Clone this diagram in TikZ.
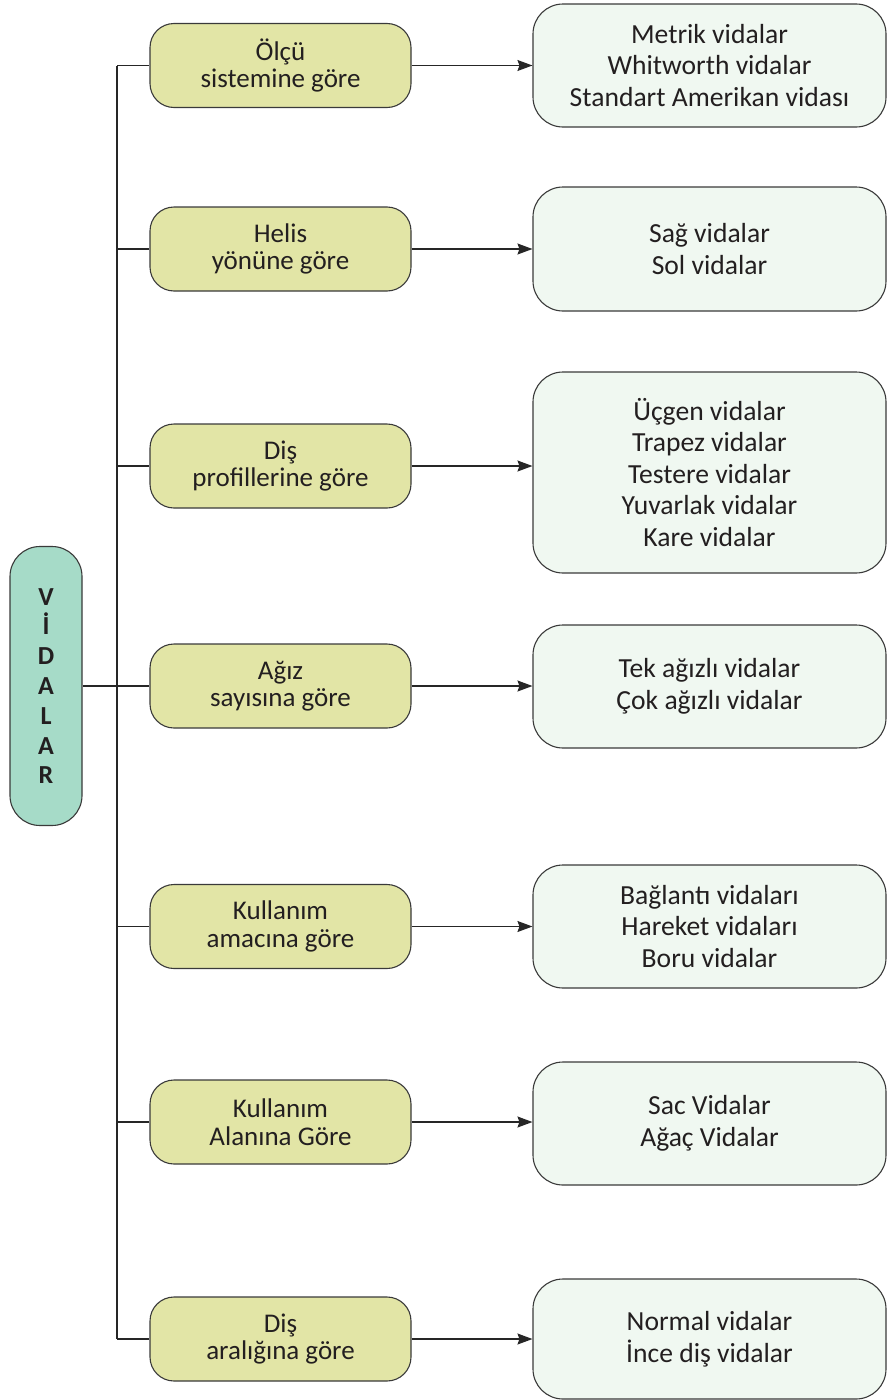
\documentclass[tikz,border=0pt]{standalone}
\usepackage{fontspec}
\setmainfont{Carlito}
\usetikzlibrary{arrows.meta}
\definecolor{midfill}{HTML}{E2E5A6}
\definecolor{rightfill}{HTML}{F0F8F1}
\definecolor{rootfill}{HTML}{A6DBC8}
\definecolor{edgec}{HTML}{3A3A3A}
\definecolor{textc}{HTML}{231F20}
\begin{document}
\begin{tikzpicture}[x=1pt,y=-1pt,
  midbox/.style={draw=edgec, line width=1.1pt, fill=midfill, rounded corners=24pt,
    minimum width=261pt, minimum height=84pt, inner sep=0pt, align=center,
    text=textc, font=\fontsize{27}{27.5}\selectfont},
  rightbox/.style={draw=edgec, line width=1.1pt, fill=rightfill, rounded corners=30pt,
    minimum width=353pt, inner sep=0pt, align=center,
    text=textc, font=\fontsize{27.6}{31.5}\selectfont},
  rootbox/.style={draw=edgec, line width=1.1pt, fill=rootfill, rounded corners=30pt,
    minimum width=72pt, minimum height=279pt, inner sep=0pt, align=center,
    text=textc, font=\fontsize{26}{29.8}\selectfont\bfseries},
  conn/.style={draw=black!85, line width=1.2pt},
  arr/.style={conn, -{Stealth[length=15pt,width=11pt,inset=2pt]}}
]
\useasboundingbox (0,0) rectangle (887,1400);

% root
\node[rootbox] (root) at (46,686) {V\\İ\\D\\A\\L\\A\\R};

% middle boxes
\node[midbox] (m1) at (280.5,65.5) {Ölçü\\sistemine göre};
\node[midbox] (m2) at (280.5,249) {Helis\\yönüne göre};
\node[midbox] (m3) at (280.5,466) {Diş\\profillerine göre};
\node[midbox] (m4) at (280.5,686) {Ağız\\sayısına göre};
\node[midbox] (m5) at (280.5,926.5) {Kullanım\\amacına göre};
\node[midbox] (m6) at (280.5,1122) {Kullanım\\Alanına Göre};
\node[midbox] (m7) at (280.5,1339) {Diş\\aralığına göre};

% right boxes
\node[rightbox, minimum height=123pt] (r1) at (709.5,65.5) {Metrik vidalar\\Whitworth vidalar\\Standart Amerikan vidası};
\node[rightbox, minimum height=124pt] (r2) at (709.5,249) {Sağ vidalar\\Sol vidalar};
\node[rightbox, minimum height=201pt] (r3) at (709.5,472.5) {Üçgen vidalar\\Trapez vidalar\\Testere vidalar\\Yuvarlak vidalar\\Kare vidalar};
\node[rightbox, minimum height=123pt] (r4) at (709.5,686.5) {Tek ağızlı vidalar\\Çok ağızlı vidalar};
\node[rightbox, minimum height=123pt] (r5) at (709.5,926.5) {Bağlantı vidaları\\Hareket vidaları\\Boru vidalar};
\node[rightbox, minimum height=123pt] (r6) at (709.5,1123.5) {Sac Vidalar\\Ağaç Vidalar};
\node[rightbox, minimum height=120pt] (r7) at (709.5,1339) {Normal vidalar\\İnce diş vidalar};

% bus
\coordinate (b1) at (117,65.5);
\coordinate (b2) at (117,249);
\coordinate (b3) at (117,466);
\coordinate (b5) at (117,926.5);
\coordinate (b6) at (117,1122);
\coordinate (b7) at (117,1339);

\draw[conn] (b1) -- (b7);
\draw[conn] (b1) -- (m1.west);
\draw[conn] (b2) -- (m2.west);
\draw[conn] (b3) -- (m3.west);
\draw[conn] (root.east) -- (m4.west);
\draw[conn] (b5) -- (m5.west);
\draw[conn] (b6) -- (m6.west);
\draw[conn] (b7) -- (m7.west);

% arrows
\draw[arr] (m1.east) -- (r1.west |- m1.east);
\draw[arr] (m2.east) -- (r2.west |- m2.east);
\draw[arr] (m3.east) -- (r3.west |- m3.east);
\draw[arr] (m4.east) -- (r4.west |- m4.east);
\draw[arr] (m5.east) -- (r5.west |- m5.east);
\draw[arr] (m6.east) -- (r6.west |- m6.east);
\draw[arr] (m7.east) -- (r7.west |- m7.east);
\end{tikzpicture}
\end{document}
